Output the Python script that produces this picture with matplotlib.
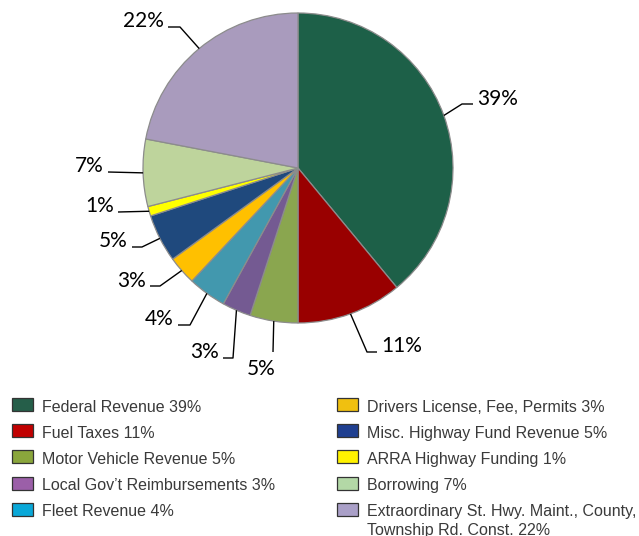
import matplotlib
matplotlib.use("Agg")
import matplotlib.pyplot as plt
from matplotlib.patches import Rectangle
import numpy as np

# revenue sources, clockwise from 12 o'clock
sources = ["Federal Revenue", "Fuel Taxes", "Motor Vehicle Revenue",
           "Local Gov\u2019t Reimbursements", "Fleet Revenue",
           "Drivers License, Fee, Permits", "Misc. Highway Fund Revenue",
           "ARRA Highway Funding", "Borrowing",
           "Extraordinary St. Hwy. Maint., County,\nTownship Rd. Const."]
shares = [39, 11, 5, 3, 4, 3, 5, 1, 7, 22]

pie_colors = ["#1d6048", "#990000", "#8aa64f", "#745a92", "#4298ae",
              "#ffc000", "#1f497d", "#ffff00", "#bed49c", "#a99bbd"]
legend_colors = ["#255e49", "#c00000", "#8aa63c", "#9b5fa8", "#0aa8d8",
                 "#f0c010", "#1f3f90", "#fff200", "#b3d8a6", "#aaa0c8"]

W, H = 639, 536
CX, CY, R = 298, 168, 155          # pie centre / radius in pixels (y from top)

# leader elbows, leader ends and label anchors (pixels, y from top)
elbow = [(462, 104), (367, 352), (273, 352), (233, 358), (190, 325),
         (160, 286), (142, 247), (118, 212), (108, 172), (180, 27)]
end = [(473, 104), (377, 352), (273, 352), (223, 358), (178, 325),
       (150, 286), (132, 247), (118, 212), (108, 172), (168, 27)]
label_xy = [(477, 105), (381, 352), (276, 375), (219, 358), (174, 325),
            (146, 287), (128, 247), (114, 212), (104, 172), (164, 27)]
label_ha = ["left", "left", "right", "right", "right",
            "right", "right", "right", "right", "right"]


def py(y):
    return H - y


fig = plt.figure(figsize=(W / 100, H / 100), dpi=100)
ax = fig.add_axes([0, 0, 1, 1])

wedges, _ = ax.pie(shares, colors=pie_colors, startangle=90, counterclock=False,
                   center=(CX, py(CY)), radius=R, frame=True,
                   wedgeprops=dict(edgecolor="#8c8c8c", linewidth=0.9))
ax.set_xlim(0, W)
ax.set_ylim(0, H)
ax.set_aspect("equal")
ax.axis("off")

for i, w in enumerate(wedges):
    mid = np.deg2rad((w.theta1 + w.theta2) / 2)
    ax0 = CX + R * np.cos(mid)
    ay0 = py(CY) + R * np.sin(mid)
    xs = [ax0, elbow[i][0], end[i][0]]
    ys = [ay0, py(elbow[i][1]), py(end[i][1])]
    ax.plot(xs, ys, color="black", lw=1.0, solid_capstyle="butt")
    ax.text(label_xy[i][0], py(label_xy[i][1]), f"{shares[i]}%",
            ha=label_ha[i], va="baseline", fontsize=15,
            family=["Lato", "DejaVu Sans"], color="black")

# legend, two columns of five; wrapped names continue 19px lower
for i, (name, v) in enumerate(zip(sources, shares)):
    col, row = divmod(i, 5)
    px = 12 if col == 0 else 337
    cy = 404.5 + row * 26.2
    ax.add_patch(Rectangle((px, py(cy + 6.5)), 21, 13, facecolor=legend_colors[i],
                           edgecolor="#333333", lw=0.9))
    for k, line in enumerate(f"{name} {v}%".split("\n")):
        ax.text(px + 30, py(cy + 7 + 19 * k), line, ha="left", va="baseline",
                fontsize=11.5, family=["Liberation Sans", "DejaVu Sans"],
                color="#3a3a3a")

fig.savefig("out.png", dpi=100)
